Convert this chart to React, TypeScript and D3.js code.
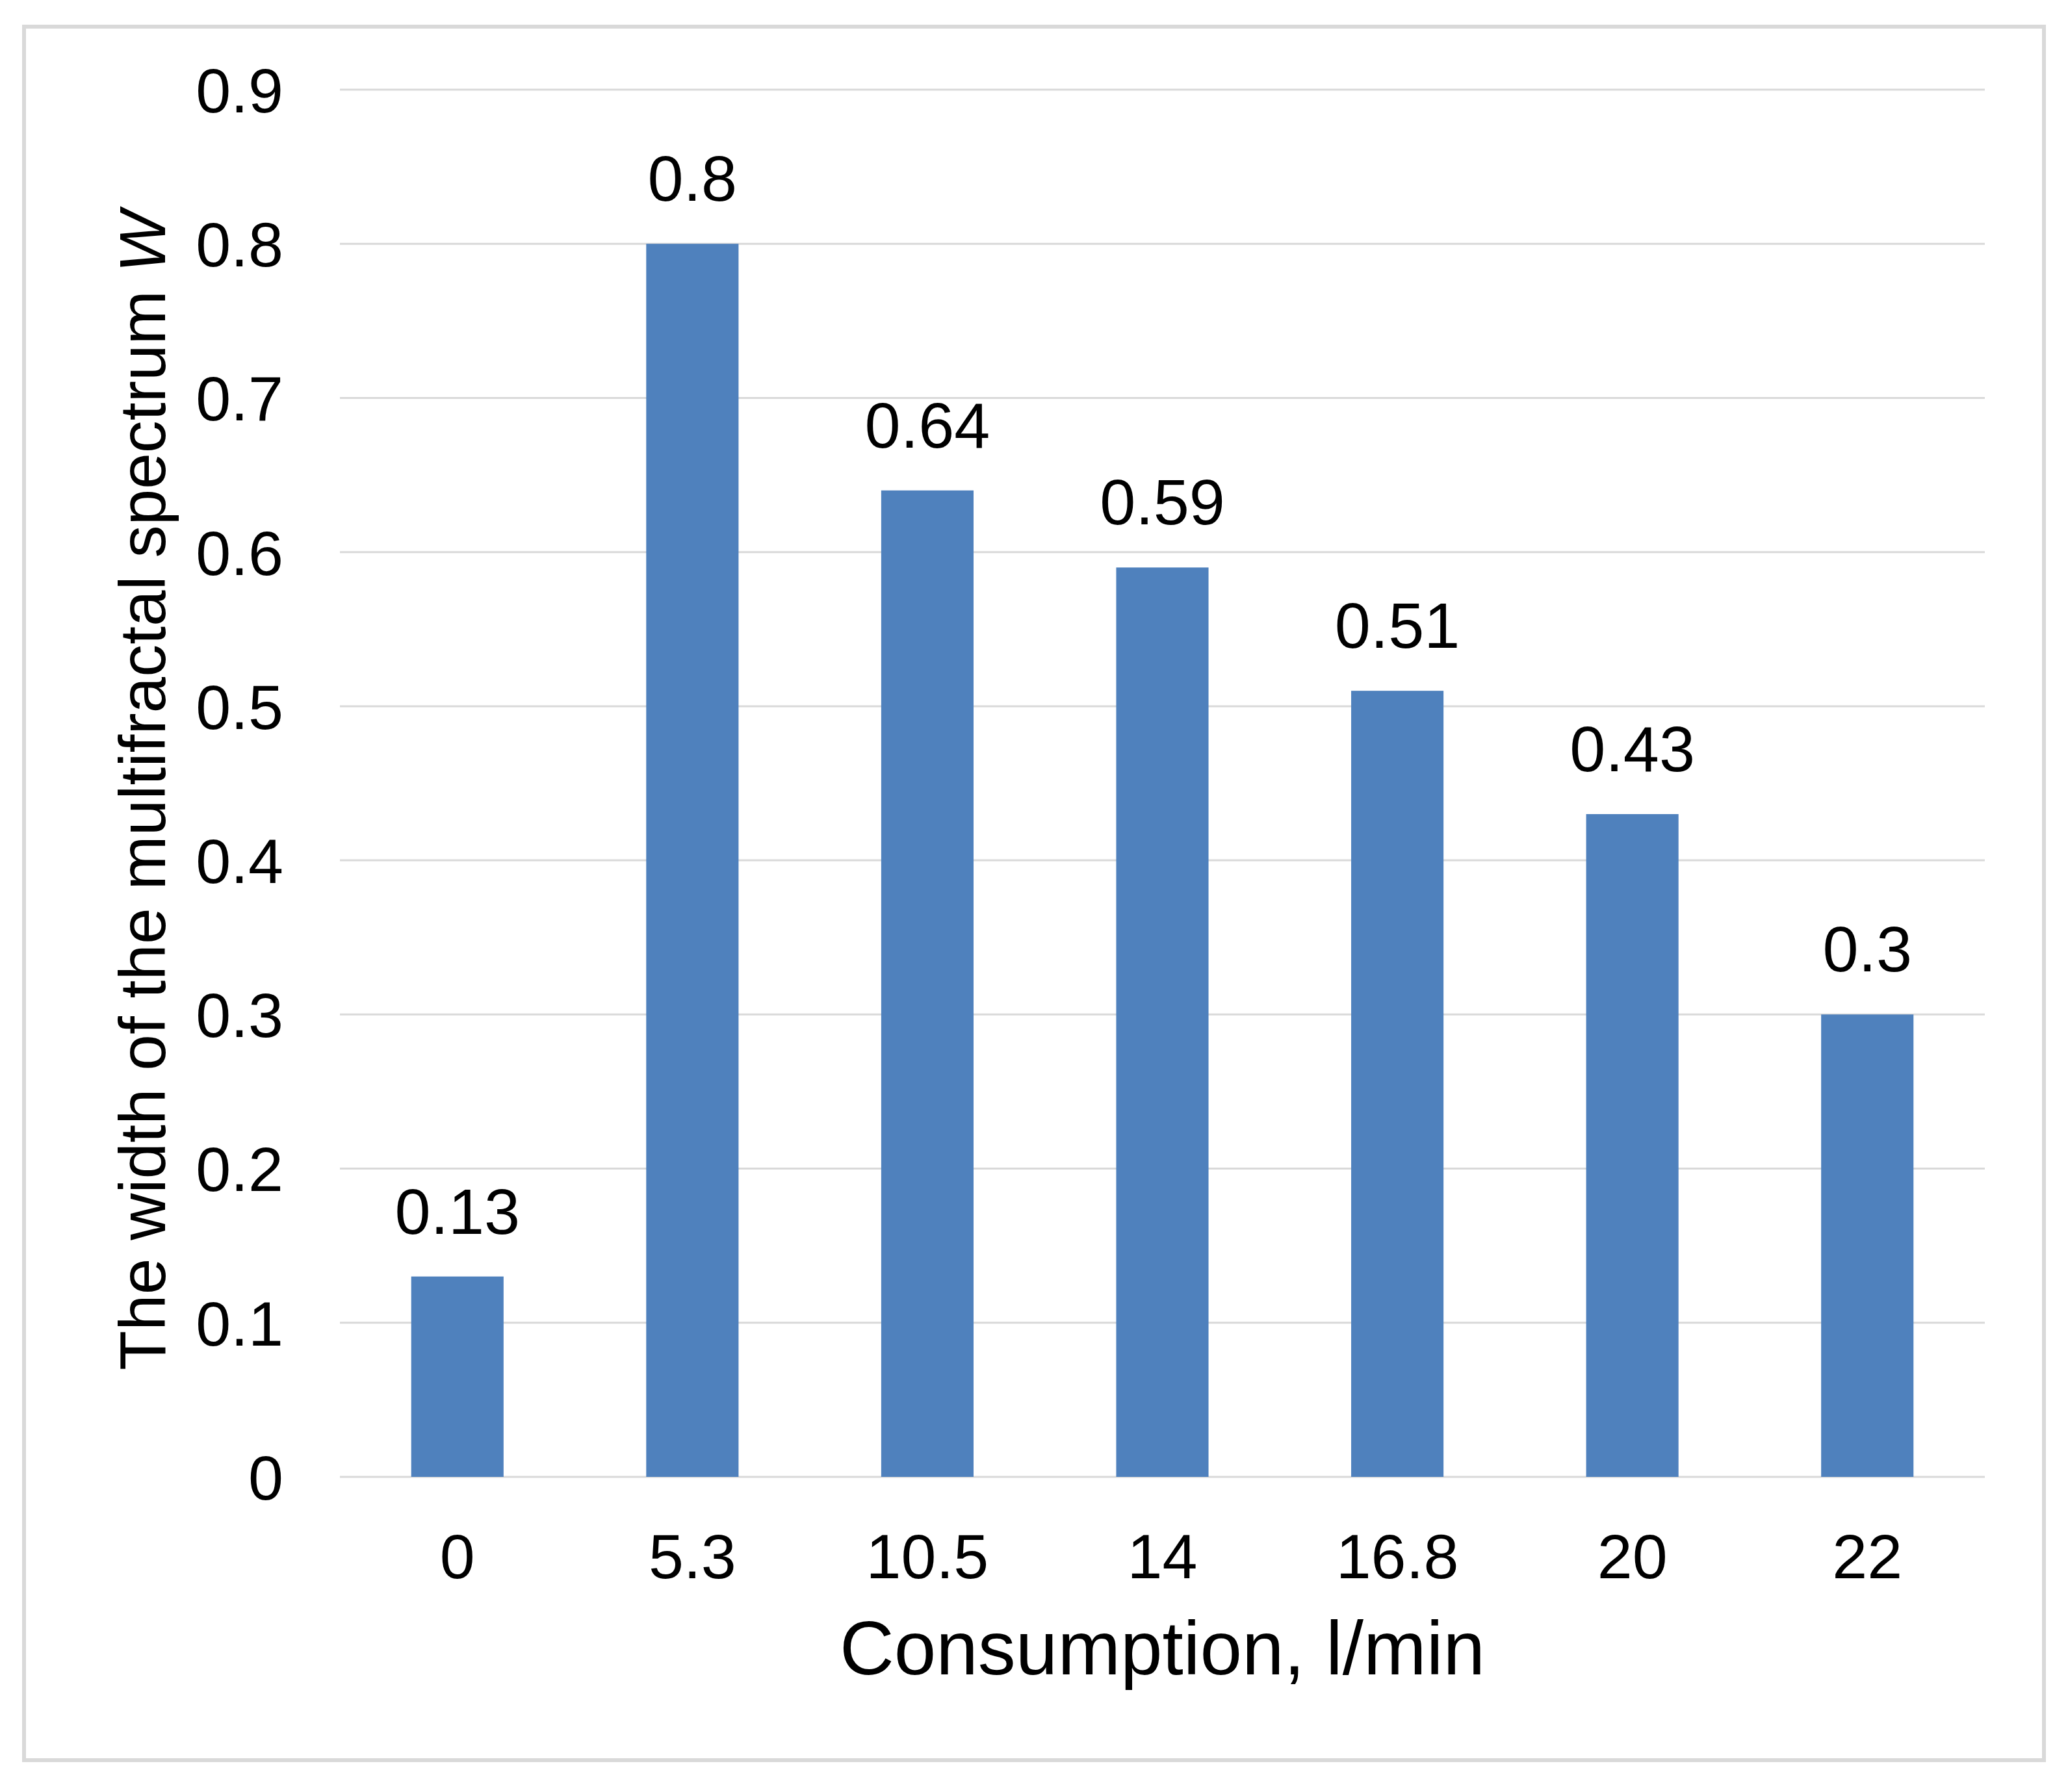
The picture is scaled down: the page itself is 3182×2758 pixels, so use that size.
import React, { useRef, useEffect } from 'react';
import * as d3 from 'd3';

// Chart data
const categories = ['0', '5.3', '10.5', '14', '16.8', '20', '22'];
const spectrumWidth = [0.13, 0.8, 0.64, 0.59, 0.51, 0.43, 0.3];
const yTickValues = [0, 0.1, 0.2, 0.3, 0.4, 0.5, 0.6, 0.7, 0.8, 0.9];

const xTitle = 'Consumption, l/min';
const yTitle = 'The width of the multifractal spectrum ';
const yTitleSymbol = 'W';

const WIDTH = 3182;
const HEIGHT = 2758;
const FONT = 'Arial, "Liberation Sans", Helvetica, sans-serif';

const App: React.FC = () => {
  const svgRef = useRef<SVGSVGElement>(null);

  useEffect(() => {
    if (!svgRef.current) return;
    const svg = d3.select(svgRef.current);
    svg.selectAll('*').remove();

    const margin = { top: 138, right: 128, bottom: 485, left: 523 };
    const innerWidth = WIDTH - margin.left - margin.right;
    const innerHeight = HEIGHT - margin.top - margin.bottom;

    // Background + chart frame
    svg.append('rect').attr('width', WIDTH).attr('height', HEIGHT).attr('fill', '#ffffff');
    svg
      .append('rect')
      .attr('x', 37)
      .attr('y', 41)
      .attr('width', 3108)
      .attr('height', 2668)
      .attr('fill', '#ffffff')
      .attr('stroke', '#d9d9d9')
      .attr('stroke-width', 6);

    const g = svg.append('g').attr('transform', `translate(${margin.left},${margin.top})`);

    const xScale = d3
      .scaleBand<string>()
      .domain(categories)
      .range([0, innerWidth])
      .paddingInner(0.607)
      .paddingOuter(0.3035);

    const yScale = d3.scaleLinear().domain([0, 0.9]).range([innerHeight, 0]);

    // Grid lines
    g.selectAll('.grid-line-y')
      .data(yTickValues)
      .enter()
      .append('line')
      .attr('class', 'grid-line-y')
      .attr('x1', 0)
      .attr('x2', innerWidth)
      .attr('y1', d => yScale(d))
      .attr('y2', d => yScale(d))
      .attr('stroke', '#d9d9d9')
      .attr('stroke-width', 3);

    // Y tick labels
    g.selectAll('.y-tick')
      .data(yTickValues)
      .enter()
      .append('text')
      .attr('class', 'y-tick')
      .attr('x', -87)
      .attr('y', d => yScale(d))
      .attr('dy', '0.36em')
      .attr('text-anchor', 'end')
      .attr('font-family', FONT)
      .attr('font-size', 97)
      .attr('fill', '#000')
      .text(d => d3.format('')(d));

    // Bars
    g.selectAll('.bar')
      .data(spectrumWidth)
      .enter()
      .append('rect')
      .attr('class', 'bar')
      .attr('x', (_, i) => xScale(categories[i]) as number)
      .attr('y', d => yScale(d))
      .attr('width', xScale.bandwidth())
      .attr('height', d => innerHeight - yScale(d))
      .attr('fill', '#4f81bd');

    // Data labels
    g.selectAll('.bar-label')
      .data(spectrumWidth)
      .enter()
      .append('text')
      .attr('class', 'bar-label')
      .attr('x', (_, i) => (xScale(categories[i]) as number) + xScale.bandwidth() / 2)
      .attr('y', d => yScale(d) - 66)
      .attr('text-anchor', 'middle')
      .attr('font-family', FONT)
      .attr('font-size', 99)
      .attr('fill', '#000')
      .text(d => String(d));

    // X tick labels
    g.selectAll('.x-tick')
      .data(categories)
      .enter()
      .append('text')
      .attr('class', 'x-tick')
      .attr('x', d => (xScale(d) as number) + xScale.bandwidth() / 2)
      .attr('y', innerHeight + 156)
      .attr('text-anchor', 'middle')
      .attr('font-family', FONT)
      .attr('font-size', 97)
      .attr('fill', '#000')
      .text(d => d);

    // X axis title
    g.append('text')
      .attr('x', innerWidth / 2)
      .attr('y', innerHeight + 304)
      .attr('text-anchor', 'middle')
      .attr('font-family', FONT)
      .attr('font-size', 116)
      .attr('fill', '#000')
      .text(xTitle);

    // Y axis title
    const yt = svg
      .append('text')
      .attr('transform', `translate(254,1217) rotate(-90)`)
      .attr('text-anchor', 'middle')
      .attr('font-family', FONT)
      .attr('font-size', 100)
      .attr('fill', '#000');
    yt.append('tspan').text(yTitle);
    yt.append('tspan').attr('font-style', 'italic').text(yTitleSymbol);
  }, []);

  return (
    <div style={{ position: 'absolute', left: 0, top: 0 }}>
      <svg ref={svgRef} width={WIDTH} height={HEIGHT} style={{ display: 'block' }} />
    </div>
  );
};

export default App;
